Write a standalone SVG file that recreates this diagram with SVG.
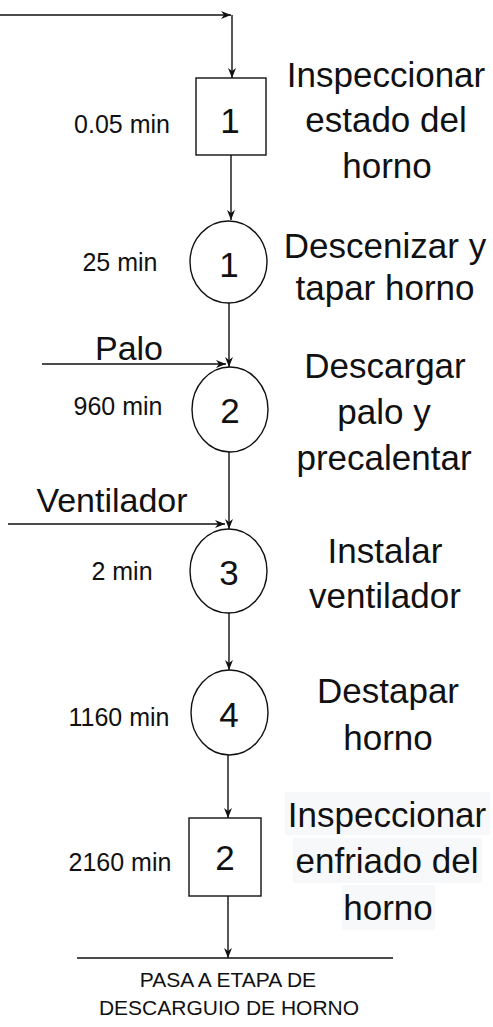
<svg xmlns="http://www.w3.org/2000/svg" width="493" height="1027" viewBox="0 0 493 1027">
<style>
text{font-family:"Liberation Sans",Arial,sans-serif;fill:#111;text-anchor:middle}
.desc{font-size:35px}
.num{font-size:35px}
.time{font-size:25px}
.in{font-size:34px}
.foot{font-size:21px}
.shape{fill:#fff;stroke:#111;stroke-width:1.4}
.edge{fill:none;stroke:#111;stroke-width:1.4}
.hl{fill:#f7f8f9}
</style>
<defs>
<marker id="arr" viewBox="0 0 10 8" refX="10" refY="4" markerWidth="10" markerHeight="8" markerUnits="userSpaceOnUse" orient="auto">
<path d="M0,0 L10,4 L0,8 L3,4 z" fill="#111"/>
</marker>
</defs>
<rect width="493" height="1027" fill="#fff"/>
<g id="connectors">
<path class="edge" d="M0,15 H231" marker-end="url(#arr)"/>
<path class="edge" d="M232,15 V78" marker-end="url(#arr)"/>
<path class="edge" d="M231,155 V220" marker-end="url(#arr)"/>
<path class="edge" d="M229,303 V367" marker-end="url(#arr)"/>
<path class="edge" d="M42,364 H226" marker-end="url(#arr)"/>
<path class="edge" d="M229,452 V529" marker-end="url(#arr)"/>
<path class="edge" d="M8,524 H225" marker-end="url(#arr)"/>
<path class="edge" d="M229,613 V670" marker-end="url(#arr)"/>
<path class="edge" d="M228,755 V818" marker-end="url(#arr)"/>
<path class="edge" d="M228,896 V958" marker-end="url(#arr)"/>
<path class="edge" d="M77,958 H393"/>
</g>
<g id="inspect1">
<rect class="shape" x="196" y="78" width="70" height="77"/>
<text class="num" x="230" y="133">1</text>
<text class="time" x="122" y="133">0.05 min</text>
<text class="desc" x="386" y="87">Inspeccionar</text>
<text class="desc" x="386" y="132">estado del</text>
<text class="desc" x="387" y="178">horno</text>
</g>
<g id="op1">
<ellipse class="shape" cx="228.5" cy="262" rx="38.5" ry="41"/>
<text class="num" x="229" y="277">1</text>
<text class="time" x="120" y="271">25 min</text>
<text class="desc" x="385" y="258">Descenizar y</text>
<text class="desc" x="385" y="300">tapar horno</text>
</g>
<g id="op2">
<ellipse class="shape" cx="230" cy="409.5" rx="38" ry="42.5"/>
<text class="num" x="230" y="423">2</text>
<text class="time" x="118" y="415">960 min</text>
<text class="in" x="129" y="360">Palo</text>
<text class="desc" x="385" y="378">Descargar</text>
<text class="desc" x="384" y="424">palo y</text>
<text class="desc" x="384" y="470">precalentar</text>
</g>
<g id="op3">
<ellipse class="shape" cx="228.5" cy="571" rx="38.5" ry="42"/>
<text class="num" x="229" y="585">3</text>
<text class="time" x="122" y="580">2 min</text>
<text class="in" x="112" y="512">Ventilador</text>
<text class="desc" x="385" y="563">Instalar</text>
<text class="desc" x="385" y="608">ventilador</text>
</g>
<g id="op4">
<ellipse class="shape" cx="229.5" cy="712.5" rx="38.5" ry="42.5"/>
<text class="num" x="229" y="727">4</text>
<text class="time" x="119" y="726">1160 min</text>
<text class="desc" x="388" y="703">Destapar</text>
<text class="desc" x="388" y="750">horno</text>
</g>
<g id="inspect2">
<rect class="shape" x="189" y="818" width="72" height="78"/>
<text class="num" x="225" y="870">2</text>
<text class="time" x="120" y="871">2160 min</text>
<rect class="hl" x="285" y="792" width="205" height="43"/>
<rect class="hl" x="293" y="838" width="189" height="45"/>
<rect class="hl" x="342" y="885" width="93" height="45"/>
<text class="desc" x="387" y="827">Inspeccionar</text>
<text class="desc" x="387" y="873">enfriado del</text>
<text class="desc" x="388" y="920">horno</text>
</g>
<g id="footer">
<text class="foot" x="228" y="987">PASA A ETAPA DE</text>
<text class="foot" x="229" y="1015">DESCARGUIO DE HORNO</text>
</g>
</svg>
